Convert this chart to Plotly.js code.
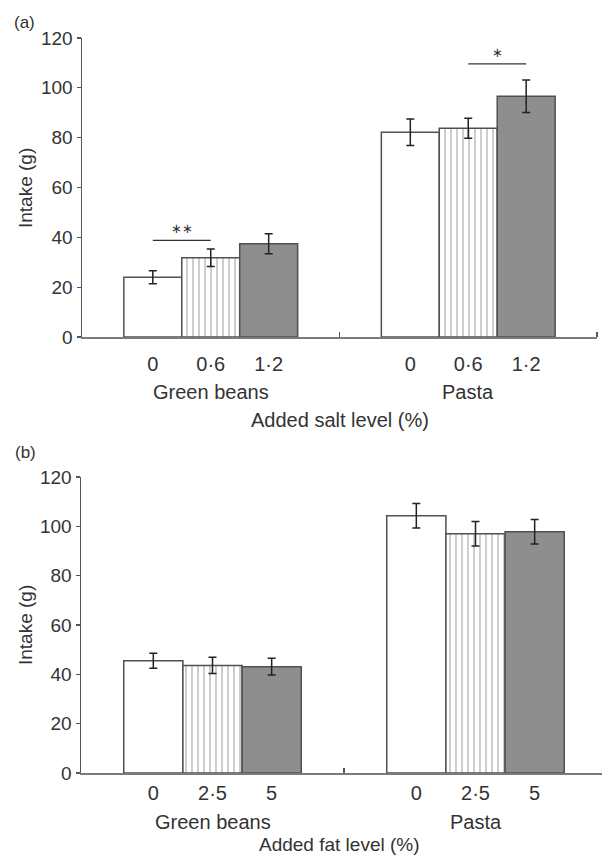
<!DOCTYPE html>
<html>
<head>
<meta charset="utf-8">
<script src="https://cdn.plot.ly/plotly-3.0.1.min.js"></script>
<style>html,body{margin:0;padding:0;background:#fff;}</style>
</head>
<body>
<div id="chart" style="width:602px;height:859px;"></div>
<script>
// ---------- data ----------
const foods = ['Green beans', 'Pasta'];
const saltLevels = ['0', '0·6', '1·2'];
const fatLevels = ['0', '2·5', '5'];

// Panel (a): added salt
const salt0 = [24.0, 82.2];
const salt06 = [31.8, 83.8];
const salt12 = [37.4, 96.6];
const salt0Err = [2.6, 5.3];
const salt06Err = [3.5, 4.0];
const salt12Err = [4.0, 6.5];

// Panel (b): added fat
const fat0 = [45.5, 104.3];
const fat25 = [43.6, 97.0];
const fat5 = [43.1, 97.8];
const fat0Err = [3.0, 5.0];
const fat25Err = [3.3, 5.0];
const fat5Err = [3.4, 5.0];

// significance markers (panel a): [food index, from level, to level, y, label]
const sigGB = {food: 0, from: 0, to: 1, y: 38.8, label: '∗∗'};
const sigPasta = {food: 1, from: 1, to: 2, y: 109.6, label: '∗'};

// ---------- styling ----------
const FONT = '"Liberation Sans", Arial, Helvetica, sans-serif';
const TXT = '#333333';
const BARGAP = 0.325;
const W = (1 - BARGAP) / 3;   // width of one bar in axis units
const groupX = foods.map((f, i) => i);

const styles = [
  {color: '#ffffff', pattern: null},
  {color: '#ffffff', pattern: {shape: '|', fgcolor: '#b4b4b4', bgcolor: '#ffffff', size: 6, solidity: 0.22}},
  {color: '#8e8e8e', pattern: null}
];

function barTrace(y, err, k, xa, ya) {
  const m = {color: styles[k].color, line: {color: '#505050', width: 1.5}};
  if (styles[k].pattern) m.pattern = styles[k].pattern;
  return {
    type: 'bar', x: groupX, y: y, xaxis: xa, yaxis: ya,
    marker: m, offsetgroup: String(k),
    error_y: {type: 'data', array: err, visible: true, color: '#222222', thickness: 1.5, width: 4},
    hoverinfo: 'skip', showlegend: false
  };
}

const data = [
  barTrace(salt0, salt0Err, 0, 'x', 'y'),
  barTrace(salt06, salt06Err, 1, 'x', 'y'),
  barTrace(salt12, salt12Err, 2, 'x', 'y'),
  barTrace(fat0, fat0Err, 0, 'x2', 'y2'),
  barTrace(fat25, fat25Err, 1, 'x2', 'y2'),
  barTrace(fat5, fat5Err, 2, 'x2', 'y2')
];

function tickPos() {
  const v = [];
  groupX.forEach(g => { for (let i = 0; i < 3; i++) v.push(g + (i - 1) * W); });
  return v;
}
function tickText(levels) {
  const t = [];
  groupX.forEach(() => levels.forEach(l => t.push(l)));
  return t;
}

function xaxis(domain, range, levels, standoff) {
  return {
    domain: domain, range: range,
    showline: true, linecolor: '#7a7a7a', linewidth: 2,
    zeroline: false, showgrid: false,
    tickmode: 'array', tickvals: tickPos(), ticktext: tickText(levels),
    ticks: '', ticklabelstandoff: standoff,
    tickfont: {family: FONT, size: 20, color: TXT},
    minor: {tickmode: 'array', tickvals: [0.5, 1.5], ticks: 'inside', ticklen: 5, tickwidth: 1.2, tickcolor: '#555555'},
    fixedrange: true
  };
}
function yaxis(domain) {
  return {
    domain: domain, range: [0, 120], tickmode: 'linear', tick0: 0, dtick: 20,
    showline: true, linecolor: '#555555', linewidth: 1.5,
    ticks: 'outside', ticklen: 4, tickwidth: 1.2, tickcolor: '#555555',
    zeroline: false, showgrid: false,
    tickfont: {family: FONT, size: 19, color: TXT},
    fixedrange: true
  };
}

const H = 859, WID = 602;
const xa = xaxis([82 / WID, 597 / WID], [-0.5, 1.5], saltLevels, 8);
xa.anchor = 'y';
const xb = xaxis([81 / WID, 1], [-0.5, 1.481], fatLevels, 1);
xb.anchor = 'y2';
const ya = yaxis([1 - 337 / H, 1 - 38 / H]); ya.anchor = 'x';
const yb = yaxis([1 - 773 / H, 1 - 477 / H]); yb.anchor = 'x2';

function ann(text, opts) {
  return Object.assign({text: text, showarrow: false, font: {family: FONT, size: 20, color: TXT}}, opts);
}

const annotations = [
  ann('(a)', {xref: 'paper', yref: 'paper', x: 24 / WID, y: 1 - 23 / H, xanchor: 'center', yanchor: 'middle', font: {family: FONT, size: 17, color: TXT}}),
  ann('(b)', {xref: 'paper', yref: 'paper', x: 25 / WID, y: 1 - 452 / H, xanchor: 'center', yanchor: 'middle', font: {family: FONT, size: 17, color: TXT}}),
  ann('Intake (g)', {xref: 'paper', yref: 'paper', x: 25 / WID, y: 1 - 188 / H, textangle: -90, xanchor: 'center', yanchor: 'middle', font: {family: FONT, size: 19, color: TXT}}),
  ann('Intake (g)', {xref: 'paper', yref: 'paper', x: 25 / WID, y: 1 - 625 / H, textangle: -90, xanchor: 'center', yanchor: 'middle', font: {family: FONT, size: 19, color: TXT}}),
  ann('Added salt level (%)', {xref: 'x domain', yref: 'paper', x: 0.5, y: 1 - 420 / H, xanchor: 'center', yanchor: 'middle'}),
  ann('Added fat level (%)', {xref: 'x domain', yref: 'paper', x: 0.5, y: 2 / H, xanchor: 'center', yanchor: 'bottom', font: {family: FONT, size: 19, color: TXT}})
];
foods.forEach((f, g) => {
  annotations.push(ann(f, {xref: 'x', yref: 'paper', x: g, y: 1 - 392 / H, xanchor: 'center', yanchor: 'middle'}));
  annotations.push(ann(f, {xref: 'x2', yref: 'paper', x: g, y: 1 - 822 / H, xanchor: 'center', yanchor: 'middle'}));
});

const shapes = [];
[sigGB, sigPasta].forEach(s => {
  const x0 = s.food + (s.from - 1) * W, x1 = s.food + (s.to - 1) * W;
  shapes.push({type: 'line', xref: 'x', yref: 'y', x0: x0, x1: x1, y0: s.y, y1: s.y, line: {color: '#333333', width: 1.3}});
  annotations.push(ann(s.label, {xref: 'x', yref: 'y', x: (x0 + x1) / 2, y: s.y, yanchor: 'bottom', yshift: 2, font: {family: FONT, size: 13, color: '#333333'}}));
});

const layout = {
  width: WID, height: H,
  margin: {l: 0, r: 0, t: 0, b: 0},
  paper_bgcolor: '#ffffff', plot_bgcolor: '#ffffff',
  barmode: 'group', bargap: BARGAP, bargroupgap: 0,
  showlegend: false,
  xaxis: xa, yaxis: ya, xaxis2: xb, yaxis2: yb,
  annotations: annotations, shapes: shapes
};

Plotly.newPlot('chart', data, layout, {displayModeBar: false, staticPlot: true});
</script>
</body>
</html>
